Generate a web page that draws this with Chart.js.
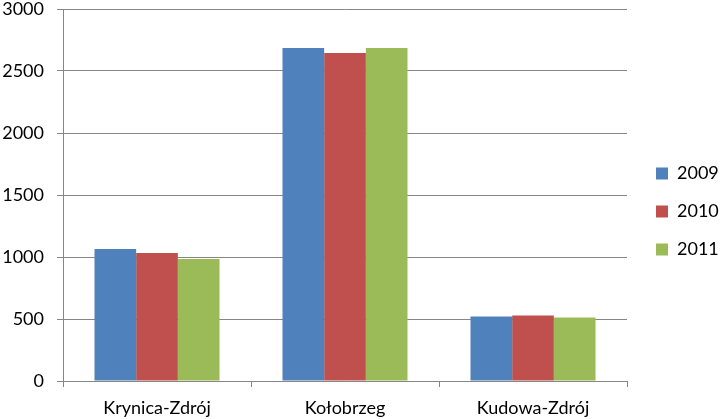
<!DOCTYPE html>
<html>
<head>
<meta charset="utf-8">
<script src="https://cdn.jsdelivr.net/npm/chart.js@4/dist/chart.umd.min.js"></script>
<style>
  html, body { margin: 0; padding: 0; background: #fff; }
  #wrap { width: 721px; height: 419px; }
</style>
</head>
<body>
<div id="wrap"><canvas id="wykres"></canvas></div>
<script>
const miasta = ['Krynica-Zdrój', 'Kołobrzeg', 'Kudowa-Zdrój'];
const lata = ['2009', '2010', '2011'];
const dane2009 = [1065, 2685, 520];
const dane2010 = [1032, 2645, 528];
const dane2011 = [984, 2685, 512];
const kolory = ['#4F81BD', '#C0504D', '#9BBB59'];
const osY = [0, 500, 1000, 1500, 2000, 2500, 3000];

const szary = '#868686';
const rodzina = 'Lato, "Open Sans", sans-serif';

// legenda po prawej: stała szerokość i lekkie przesunięcie
const legendaPoPrawej = {
    id: 'legendaPoPrawej',
    beforeLayout(chart) {
        const lg = chart.legend;
        if (lg && !lg._poprawiona) {
            const fit = lg.fit.bind(lg);
            lg.fit = function () { fit(); this.width = 94; };
            lg._poprawiona = true;
        }
    },
    afterLayout(chart) {
        const lg = chart.legend;
        if (lg) {
            lg.left += 9; lg.right += 9;
            lg.top += 2; lg.bottom += 2;
        }
    }
};

const ctx = document.getElementById('wykres').getContext('2d');
new Chart(ctx, {
    type: 'bar',
    data: {
        labels: miasta,
        datasets: [dane2009, dane2010, dane2011].map((d, i) => ({
            label: lata[i],
            data: d,
            backgroundColor: kolory[i],
            borderWidth: 0,
            categoryPercentage: 0.665,
            barPercentage: 1.0
        }))
    },
    plugins: [legendaPoPrawej],
    options: {
        responsive: true,
        maintainAspectRatio: false,
        animation: false,
        layout: {
            padding: { top: 0, left: 0, right: 0, bottom: 0 }
        },
        plugins: {
            tooltip: { enabled: false },
            legend: {
                position: 'right',
                labels: {
                    color: '#000',
                    font: { family: rodzina, size: 18 },
                    boxWidth: 12,
                    boxHeight: 12,
                    padding: 20
                }
            }
        },
        scales: {
            y: {
                min: 0,
                max: 3000,
                afterBuildTicks: axis => { axis.ticks = osY.map(v => ({ value: v })); },
                afterFit: s => { s.width = 63; s.paddingTop = 9; s.paddingBottom = 0; },
                ticks: {
                    color: '#000',
                    font: { family: rodzina, size: 18, lineHeight: 1 },
                    padding: 13,
                    callback: v => String(v)
                },
                grid: { color: szary, tickLength: 6, tickColor: szary },
                border: { color: szary }
            },
            x: {
                afterFit: s => { s.paddingLeft = 0; s.paddingRight = 0; s.height = 38; },
                ticks: { color: '#000', font: { family: rodzina, size: 18, lineHeight: 1.2 }, padding: 10 },
                grid: { display: true, drawOnChartArea: false, offset: true, tickLength: 6, color: szary },
                border: { color: szary }
            }
        }
    }
});
</script>
</body>
</html>
